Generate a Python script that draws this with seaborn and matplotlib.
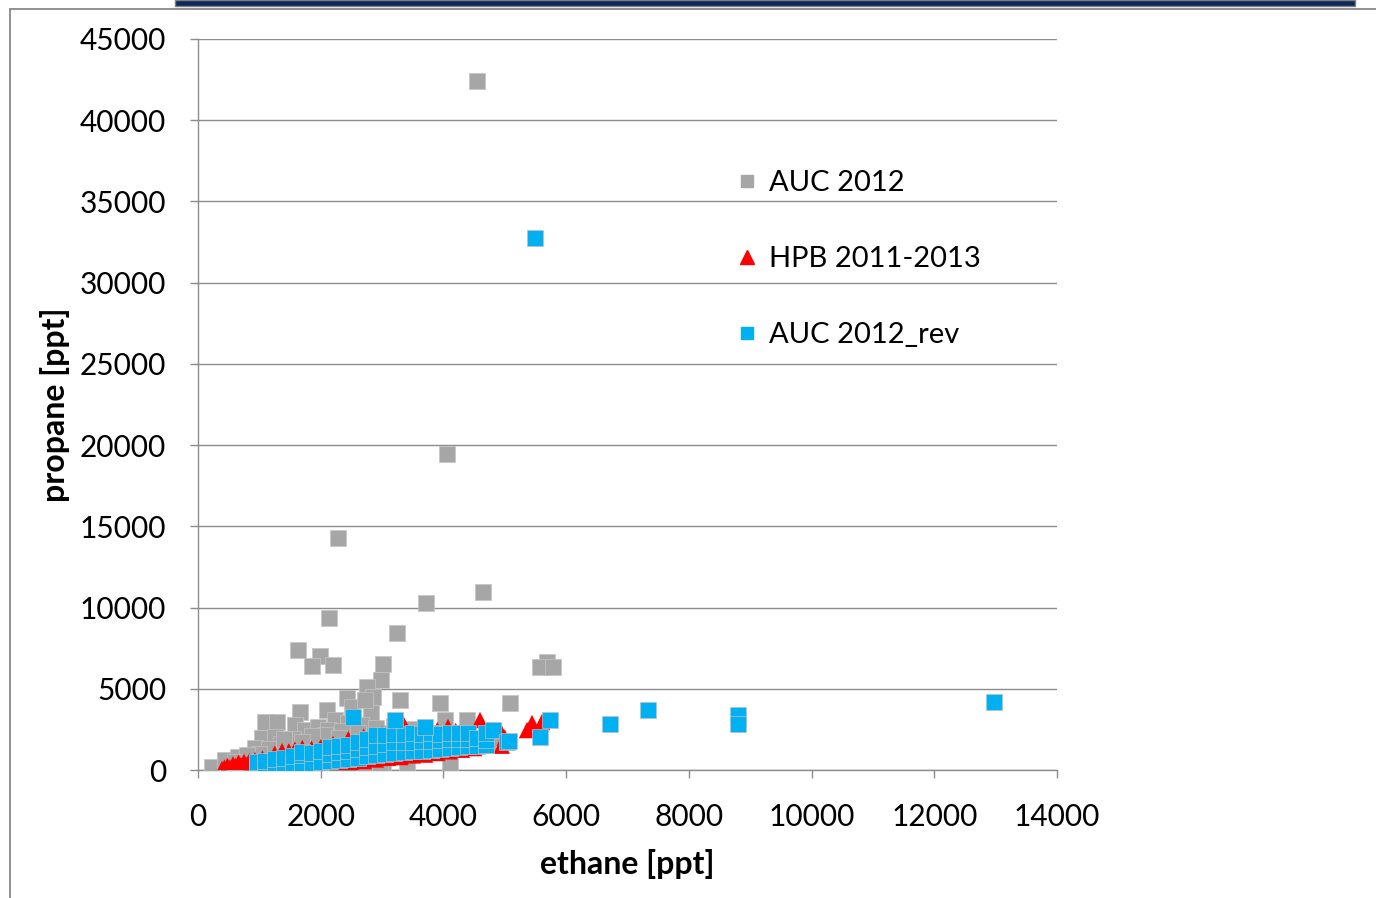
import matplotlib
matplotlib.use("Agg")
import matplotlib.pyplot as plt
import seaborn as sns
import pandas as pd
from matplotlib.lines import Line2D
from matplotlib.patches import Rectangle

# ---------------- data ----------------
auc_x = [4550, 4060, 2280, 4650, 3720, 2135, 3245, 1630, 1990, 1860, 2200, 3020,
         2990, 2754, 2429, 2103, 1662, 1092, 1288, 2850, 2820, 3290, 3945, 4026,
         4385, 5086, 5689, 5580, 5787, 1043, 1255, 929, 228, 440, 652, 2722, 3010,
         2966, 3407, 4108, 1581, 1467, 1744, 1956, 2233, 2510, 2722, 2119, 2445,
         2070, 1350, 1550, 1850, 2350, 2650, 4810, 3100, 3500,
         1150, 1400, 1700, 2300, 2600, 2900, 3200, 1000, 800, 600]
auc_y = [42400, 19450, 14280, 10960, 10280, 9360, 8430, 7390, 7020, 6400, 6460, 6530,
         5540, 5110, 4432, 3694, 3570, 2955, 2955, 4494, 3509, 4309, 4125, 3078,
         3078, 4125, 6648, 6340, 6340, 1970, 2030, 1354, 185, 616, 800, 123, 120,
         300, 430, 310, 2770, 1850, 2462, 2650, 3078, 3878, 4309, 2462, 2893,
         2150, 1600, 1900, 2100, 2400, 2750, 1540, 2300, 2500,
         1300, 1900, 1700, 2000, 2300, 2600, 2700, 1000, 900, 500]

hpb_x = [390, 430, 480, 480, 520, 570, 570, 610, 660, 660, 700, 750, 750, 800, 840,
         840, 880, 900, 930, 930, 1050, 1050,
         1100, 1300, 1500, 1700, 1900, 2100, 2300, 2500, 2700, 2900, 3100, 3300,
         3500, 3700, 3900, 4100, 4300, 4500,
         1250, 1370, 1480, 1580, 1700, 1850, 2000, 2200, 2450, 2700, 3000, 3340,
         3600, 3900, 4075, 4200, 4596, 4922, 4700, 5000, 5363, 5444, 5607, 4950]
hpb_y = [50, 150, 50, 250, 150, 100, 350, 250, 100, 450, 300, 150, 500, 350, 150,
         550, 400, 100, 200, 600, 200, 700,
         100, 150, 200, 250, 300, 350, 400, 450, 550, 650, 750, 800,
         900, 950, 1050, 1150, 1250, 1350,
         1000, 1150, 1150, 1250, 1350, 1300, 1400, 1600, 1900, 2050, 2200, 2890,
         2350, 2450, 2650, 2400, 3078, 2462, 2300, 2000, 2460, 2893, 2955, 1500]

rev_x = [960, 960, 1100, 1100, 1250, 1250, 1400, 1400, 1550, 1550,
         1700, 1700, 1700, 1850, 1850, 2000, 2000,
         2150, 2150, 2150, 2300, 2300, 2300, 2450, 2450, 2450,
         2600, 2600, 2600, 2750, 2750, 2750, 2900, 2900, 2900,
         3050, 3050, 3050, 3200, 3200, 3200, 3350, 3350, 3350,
         3500, 3500, 3500, 3650, 3650, 3650, 3800, 3800, 3800,
         3950, 3950, 3950, 4100, 4100, 4100, 4250, 4250, 4250,
         4400, 4400, 4400, 4550, 4550, 4700, 4700, 4700,
         2526, 3210, 3700, 4808, 5037, 5070, 5575, 5737,
         5487, 6715, 7334, 8800, 8800, 12975]
rev_y = [250, 500, 300, 550, 300, 650, 350, 750, 400, 850,
         400, 950, 1100, 450, 1050, 500, 1150,
         550, 1000, 1400, 600, 1100, 1500, 650, 1200, 1550,
         750, 1300, 1750, 850, 1400, 1900, 950, 1500, 2150,
         1000, 1600, 2150, 1050, 1700, 2200, 1100, 1700, 2200,
         1150, 1750, 2250, 1200, 1800, 2200, 1250, 1800, 2250,
         1300, 1850, 2200, 1350, 1900, 2250, 1400, 1900, 2300,
         1450, 1900, 2300, 1500, 1950, 1550, 1850, 2300,
         3260, 3078, 2650, 2460, 1720, 1785, 2030, 3078,
         32750, 2832, 3693, 3385, 2832, 4186]

series_names = ["AUC 2012", "HPB 2011-2013", "AUC 2012_rev"]
x_ticks = [0, 2000, 4000, 6000, 8000, 10000, 12000, 14000]
y_ticks = [0, 5000, 10000, 15000, 20000, 25000, 30000, 35000, 40000, 45000]

df_auc = pd.DataFrame({"ethane": auc_x, "propane": auc_y})
df_hpb = pd.DataFrame({"ethane": hpb_x, "propane": hpb_y})
df_rev = pd.DataFrame({"ethane": rev_x, "propane": rev_y})

# ---------------- style ----------------
sns.set_style("white")
plt.rcParams["font.family"] = ["Lato", "DejaVu Sans"]
plt.rcParams["text.color"] = "black"
plt.rcParams["axes.labelcolor"] = "black"

W, H = 1376, 898
fig = plt.figure(figsize=(W / 100, H / 100), dpi=100)
ax = fig.add_axes([198 / W, 1 - 770 / H, (1057 - 198) / W, (770 - 39) / H])

c_gray = "#A6A6A6"
c_red = "#FF0000"
c_blue = "#00B0F0"

sns.scatterplot(data=df_auc, x="ethane", y="propane", ax=ax, marker="s", s=130,
                color=c_gray, edgecolor="#C4C4C4", linewidth=0.5, zorder=3,
                label=series_names[0])
sns.scatterplot(data=df_hpb, x="ethane", y="propane", ax=ax, marker="^", s=140,
                color=c_red, edgecolor="none", linewidth=0, zorder=4,
                label=series_names[1])
sns.scatterplot(data=df_rev, x="ethane", y="propane", ax=ax, marker="s", s=130,
                color=c_blue, edgecolor="#C0C0C0", linewidth=0.5, zorder=5,
                label=series_names[2])

ax.set_xlim(0, 14000)
ax.set_ylim(0, 45000)
ax.set_xticks(x_ticks)
ax.set_yticks(y_ticks)
ax.set_xticklabels([str(v) for v in x_ticks])
ax.set_yticklabels([str(v) for v in y_ticks])

ax.yaxis.grid(True, color="#8C8C8C", linewidth=1.0)
ax.xaxis.grid(False)
ax.set_axisbelow(True)
for side in ["top", "right"]:
    ax.spines[side].set_visible(False)
for side in ["left", "bottom"]:
    ax.spines[side].set_color("#8C8C8C")
    ax.spines[side].set_linewidth(1.0)

ax.tick_params(axis="both", which="major", direction="out", length=6, width=1,
               color="#8C8C8C", labelsize=21.5, labelcolor="black")
ax.tick_params(axis="x", bottom=True, pad=18)
ax.tick_params(axis="y", left=True, pad=17)

ax.set_xlabel("ethane [ppt]", fontsize=23, fontweight="bold", labelpad=13,
              color="black")
ax.set_ylabel("propane [ppt]", fontsize=23, fontweight="bold", labelpad=7,
              color="black")

leg_handles = [
    Line2D([], [], linestyle="none", marker="s", markersize=9, color=c_gray,
           markeredgecolor=c_gray),
    Line2D([], [], linestyle="none", marker="^", markersize=10, color=c_red,
           markeredgecolor=c_red),
    Line2D([], [], linestyle="none", marker="s", markersize=9, color=c_blue,
           markeredgecolor=c_blue),
]
ax.legend(leg_handles, series_names, loc="upper left",
          bbox_to_anchor=(737 / W, 1 - 170 / H), bbox_transform=fig.transFigure,
          frameon=False, fontsize=21, handlelength=0.7, handletextpad=0.4,
          labelspacing=1.71, borderpad=0, borderaxespad=0)

# slide decorations
fig.add_artist(Rectangle((175 / W, 1 - 6 / H), (1355 - 175) / W, 6 / H,
                         transform=fig.transFigure, facecolor="#0B2A5B",
                         edgecolor="#7F7F7F", linewidth=1))
fig.add_artist(Line2D([10 / W, 10 / W], [0, 1 - 9 / H], transform=fig.transFigure,
                      color="#7F7F7F", linewidth=1.2))
fig.add_artist(Line2D([10 / W, 1], [1 - 9 / H, 1 - 9 / H], transform=fig.transFigure,
                      color="#7F7F7F", linewidth=1.2))

fig.savefig("out.png", dpi=100)
